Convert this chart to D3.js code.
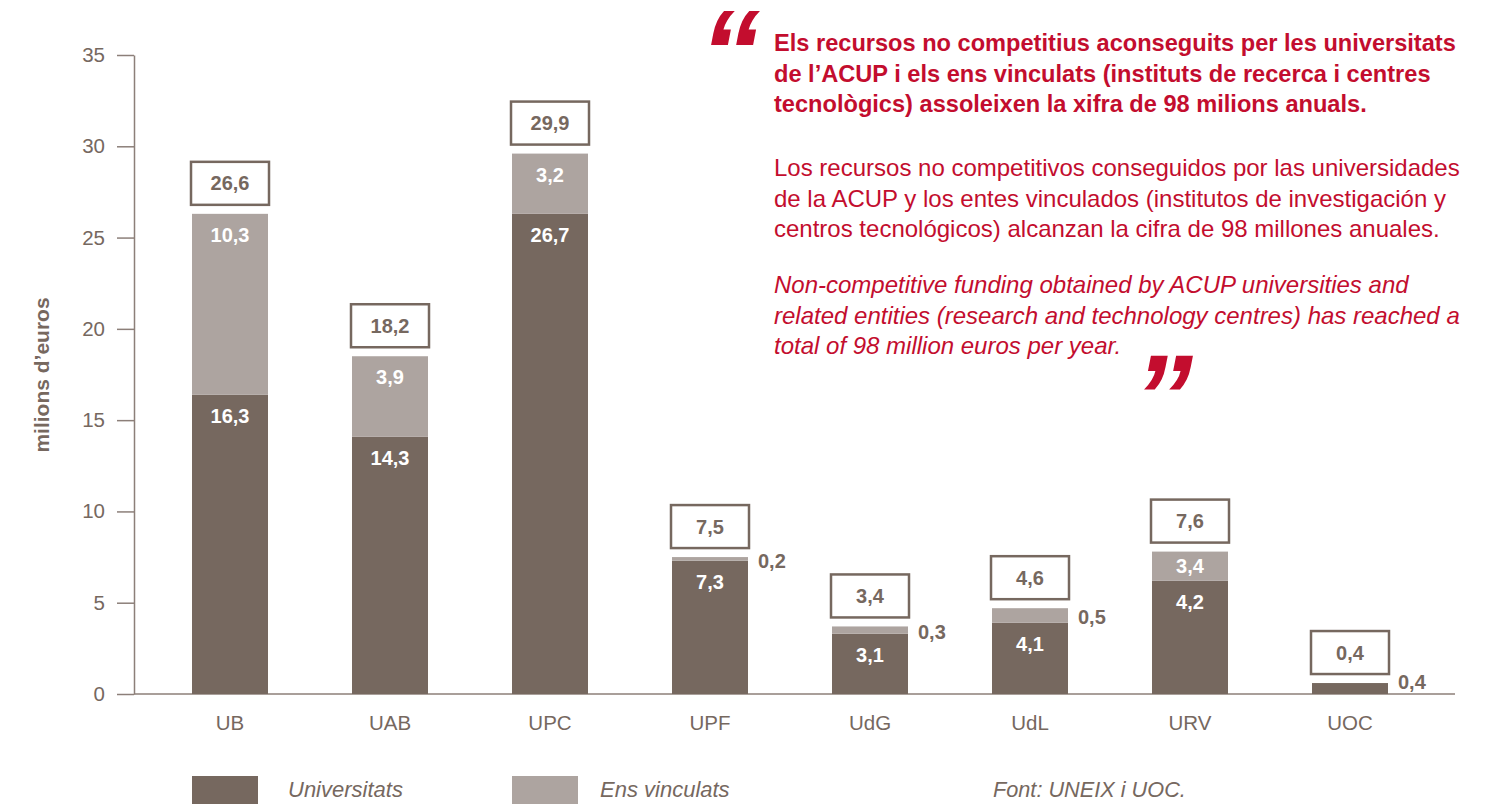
<!DOCTYPE html>
<html>
<head>
<meta charset="utf-8">
<script src="https://cdn.jsdelivr.net/npm/d3@7"></script>
<style>
  html, body { margin: 0; padding: 0; background: #fff; }
  svg { display: block; font-family: "Liberation Sans", Arial, sans-serif; }
</style>
</head>
<body>
<div id="chart"></div>
<script>
const categories = ["UB", "UAB", "UPC", "UPF", "UdG", "UdL", "URV", "UOC"];
// bar heights as drawn in the picture (milions d'euros)
const universitats = [16.4, 14.1, 26.3, 7.3, 3.3, 3.9, 6.2, 0.6];
const ensVinculats = [9.9, 4.4, 3.3, 0.2, 0.4, 0.8, 1.6, 0];
// printed labels
const universitatsLabels = ["16,3", "14,3", "26,7", "7,3", "3,1", "4,1", "4,2", "0,4"];
const ensLabels = ["10,3", "3,9", "3,2", "0,2", "0,3", "0,5", "3,4", ""];
const totalLabels = ["26,6", "18,2", "29,9", "7,5", "3,4", "4,6", "7,6", "0,4"];
const yTicks = [0, 5, 10, 15, 20, 25, 30, 35];

const quoteBold = [
  "Els recursos no competitius aconseguits per les universitats",
  "de l\u2019ACUP i els ens vinculats (instituts de recerca i centres",
  "tecnològics) assoleixen la xifra de 98 milions anuals."
];
const quoteEs = [
  "Los recursos no competitivos conseguidos por las universidades",
  "de la ACUP y los entes vinculados (institutos de investigación y",
  "centros tecnológicos) alcanzan la cifra de 98 millones anuales."
];
const quoteEn = [
  "Non-competitive funding obtained by ACUP universities and",
  "related entities (research and technology centres) has reached a",
  "total of 98 million euros per year."
];

const dark = "#76685f", light = "#ada4a0", textCol = "#76685f", red = "#c30d2e";
const W = 1503, H = 804;

const svg = d3.select("#chart").append("svg")
  .attr("width", W).attr("height", H);

const x = d3.scaleBand().domain(categories).range([150, 1430])
  .paddingInner(0.525).paddingOuter(0.2625);
const y = d3.scaleLinear().domain([0, 35]).range([694, 55]);

// y axis
const yAxis = svg.append("g").attr("transform", "translate(134,0)")
  .call(d3.axisLeft(y).tickValues(yTicks).tickSize(17).tickSizeOuter(0).tickPadding(12));
yAxis.select(".domain").attr("stroke", "#8c7f79").attr("stroke-width", 1.5);
yAxis.selectAll(".tick line").attr("stroke", "#8c7f79").attr("stroke-width", 1.5);
yAxis.selectAll(".tick text").attr("fill", textCol).style("font-size", "20.5px")
  .style("font-family", "Liberation Sans, Arial, sans-serif");

// baseline
svg.append("line").attr("x1", 134).attr("x2", 1455)
  .attr("y1", y(0)).attr("y2", y(0))
  .attr("stroke", "#8c7f79").attr("stroke-width", 1.5);

// x labels
const xAxis = svg.append("g").attr("transform", `translate(0,${y(0)})`)
  .call(d3.axisBottom(x).tickSize(0).tickPadding(21));
xAxis.select(".domain").remove();
xAxis.selectAll(".tick text").attr("fill", textCol).style("font-size", "20.5px")
  .style("font-family", "Liberation Sans, Arial, sans-serif");

// y title
svg.append("text")
  .attr("transform", "translate(49,375) rotate(-90)")
  .attr("text-anchor", "middle")
  .attr("fill", textCol).style("font-size", "21px").style("font-weight", "bold")
  .text("milions d\u2019euros");

const data = categories.map((c, i) => ({
  cat: c, u: universitats[i], e: ensVinculats[i],
  uLab: universitatsLabels[i], eLab: ensLabels[i], tLab: totalLabels[i]
}));

const g = svg.append("g");
const bw = x.bandwidth();

data.forEach(d => {
  const x0 = x(d.cat);
  const segs = [
    { v0: 0, v1: d.u, col: dark, lab: d.uLab },
    { v0: d.u, v1: d.u + d.e, col: light, lab: d.eLab }
  ];
  segs.forEach(s => {
    if (s.v1 - s.v0 <= 0) return;
    const top = y(s.v1), bot = y(s.v0), h = bot - top;
    g.append("rect").attr("x", x0).attr("width", bw)
      .attr("y", top).attr("height", h).attr("fill", s.col);
    if (!s.lab) return;
    if (h >= 24) {
      g.append("text").attr("x", x0 + bw / 2)
        .attr("y", top + Math.min(28, h / 2 + 7))
        .attr("text-anchor", "middle").attr("fill", "#fff")
        .style("font-size", "20px").style("font-weight", "bold")
        .text(s.lab);
    } else {
      g.append("text").attr("x", x0 + bw + 10)
        .attr("y", Math.min((top + bot) / 2 + 2, y(0) - 12))
        .attr("dominant-baseline", "central")
        .attr("fill", textCol)
        .style("font-size", "20px").style("font-weight", "bold")
        .text(s.lab);
    }
  });
  // total box
  const stackTop = y(d.u + d.e);
  const bh = 43;
  g.append("rect").attr("x", x0 - 1).attr("width", bw + 2)
    .attr("y", stackTop - 9 - bh).attr("height", bh)
    .attr("fill", "#fff").attr("stroke", dark).attr("stroke-width", 2.5);
  g.append("text").attr("x", x0 + bw / 2).attr("y", stackTop - 9 - bh / 2)
    .attr("dominant-baseline", "central").attr("text-anchor", "middle")
    .attr("fill", textCol).style("font-size", "20px").style("font-weight", "bold")
    .text(d.tLab);
});

// quote
const q = svg.append("g").attr("fill", red);
q.append("text").attr("x", 700).attr("y", 94)
  .style("font-size", "120px").style("font-weight", "bold").style("font-style", "italic")
  .text("\u201C");
q.append("text").attr("x", 1133).attr("y", 439)
  .style("font-size", "120px").style("font-weight", "bold").style("font-style", "italic")
  .text("\u201D");

const tx = 774;
quoteBold.forEach((t, i) => q.append("text").attr("x", tx).attr("y", 51 + i * 30.5)
  .style("font-size", "23.6px").style("font-weight", "bold").text(t));
quoteEs.forEach((t, i) => q.append("text").attr("x", tx).attr("y", 176 + i * 30.5)
  .style("font-size", "24px").text(t));
quoteEn.forEach((t, i) => q.append("text").attr("x", tx).attr("y", 293 + i * 30.5)
  .style("font-size", "24px").style("font-style", "italic").text(t));

// legend
const leg = svg.append("g");
leg.append("rect").attr("x", 192).attr("y", 776).attr("width", 66).attr("height", 28).attr("fill", dark);
leg.append("text").attr("x", 288).attr("y", 797).attr("fill", textCol)
  .style("font-size", "22px").style("font-style", "italic").text("Universitats");
leg.append("rect").attr("x", 512).attr("y", 776).attr("width", 66).attr("height", 28).attr("fill", light);
leg.append("text").attr("x", 600).attr("y", 797).attr("fill", textCol)
  .style("font-size", "22px").style("font-style", "italic").text("Ens vinculats");
leg.append("text").attr("x", 993).attr("y", 797).attr("fill", textCol)
  .style("font-size", "21.7px").style("font-style", "italic").text("Font: UNEIX i UOC.");
</script>
</body>
</html>
